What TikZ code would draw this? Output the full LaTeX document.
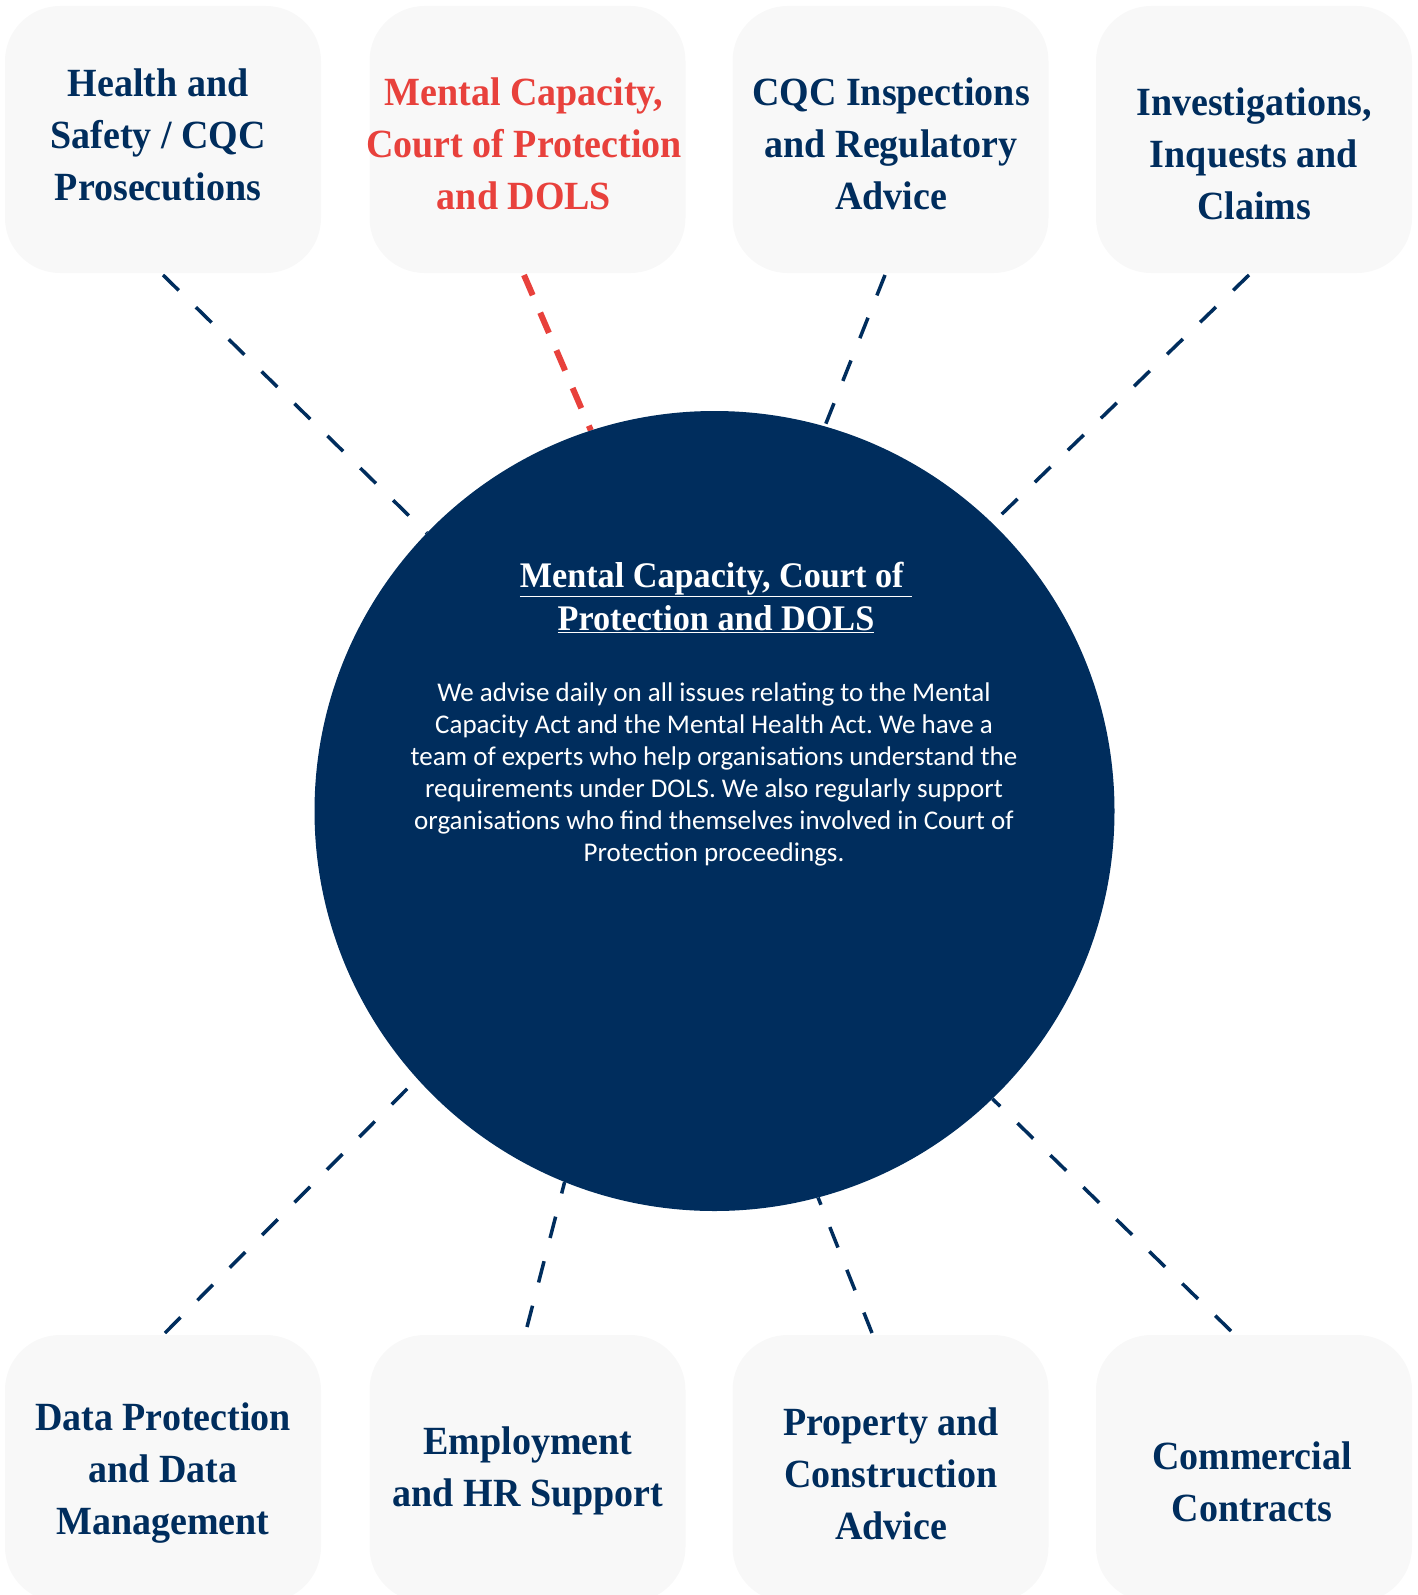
\documentclass[tikz,border=0pt]{standalone}
\usepackage{fontspec}
\setmainfont{Liberation Serif}
\newfontfamily\boxfont[FakeStretch=0.95]{Liberation Serif}
\newfontfamily\bodyfont{Carlito}
\usetikzlibrary{backgrounds}
\definecolor{navy}{RGB}{0,45,93}
\definecolor{accent}{RGB}{232,65,60}
\definecolor{boxgray}{RGB}{248,248,248}
\tikzset{
  area/.style={fill=boxgray, draw=none, rounded corners=55pt, minimum width=316pt, minimum height=267pt, inner sep=0pt},
  areatext/.style={align=center, inner sep=0pt, text=navy, font=\boxfont\bfseries\fontsize{40}{52}\selectfont},
  link/.style={draw=navy, line width=3.5pt, dash pattern=on 22pt off 24pt},
  hotlink/.style={draw=accent, line width=6pt, dash pattern=on 22pt off 19pt},
}
\begin{document}
\frenchspacing
\begin{tikzpicture}[x=1pt,y=-1pt]
\useasboundingbox (0,0) rectangle (1417,1595);
% central circle
\node[circle, fill=navy, minimum size=800pt, inner sep=0pt] (c) at (714.5,811) {};
\node[align=center, inner sep=0pt, text=white, font=\boxfont\bfseries\fontsize{36}{43}\selectfont] (ctitle) at (716,597)
  {\underline{Mental Capacity, Court of }\\\underline{Protection and DOLS}};
\node[align=center, inner sep=0pt, text=white, font=\bodyfont\fontsize{27}{32}\selectfont] (cbody) at (714,774)
  {We advise daily on all issues relating to the Mental\\
   Capacity Act and the Mental Health Act. We have a\\
   team of experts who help organisations understand the\\
   requirements under DOLS. We also regularly support\\
   organisations who find themselves involved in Court of\\
   Protection proceedings.};
% boxes
\begin{scope}[on background layer]
\node[area] (b1) at (163,139.5) {};
\node[area] (b2) at (527.5,139.5) {};
\node[area] (b3) at (890.5,139.5) {};
\node[area] (b4) at (1254,139.5) {};
\node[area] (b5) at (163,1468.5) {};
\node[area] (b6) at (527.5,1468.5) {};
\node[area] (b7) at (890.5,1468.5) {};
\node[area] (b8) at (1254,1468.5) {};
\end{scope}
\node[areatext] (t1) at (158,135) {Health and\\Safety / CQC\\Prosecutions};
\node[areatext, text=accent] (t2) at (524,144) {Mental Capacity,\\Court of Protection\\and DOLS};
\node[areatext] (t3) at (891,144) {CQC Inspections\\and Regulatory\\Advice};
\node[areatext] (t4) at (1254,154) {Investigations,\\Inquests and\\Claims};
\node[areatext] (t5) at (163,1473) {Data Protection\\and Data\\Management};
\node[areatext] (t6) at (528,1471) {Employment\\and HR Support};
\node[areatext] (t7) at (891,1474) {Property and\\Construction\\Advice};
\node[areatext] (t8) at (1252,1482) {Commercial\\Contracts};
% connector start points
\coordinate (s1) at (163,275);
\coordinate (s2) at (524,275);
\coordinate (s3) at (885,275);
\coordinate (s4) at (1249,275);
\coordinate (s5) at (165,1333);
\coordinate (s6) at (527,1327);
\coordinate (s7) at (872,1333);
\coordinate (s8) at (1231,1331);
\begin{scope}[on background layer]
\draw[link] (s1) -- (c.136.3);
\draw[hotlink] (s2) -- (c.108.6);
\draw[link] (s3) -- (c.74.2);
\draw[link] (s4) -- (c.46.7);
\draw[link] (s5) -- (c.222.3);
\draw[link] (s6) -- (c.248.8);
\draw[link] (s7) -- (c.285.2);
\draw[link] (s8) -- (c.314.8);
\end{scope}
\end{tikzpicture}
\end{document}
